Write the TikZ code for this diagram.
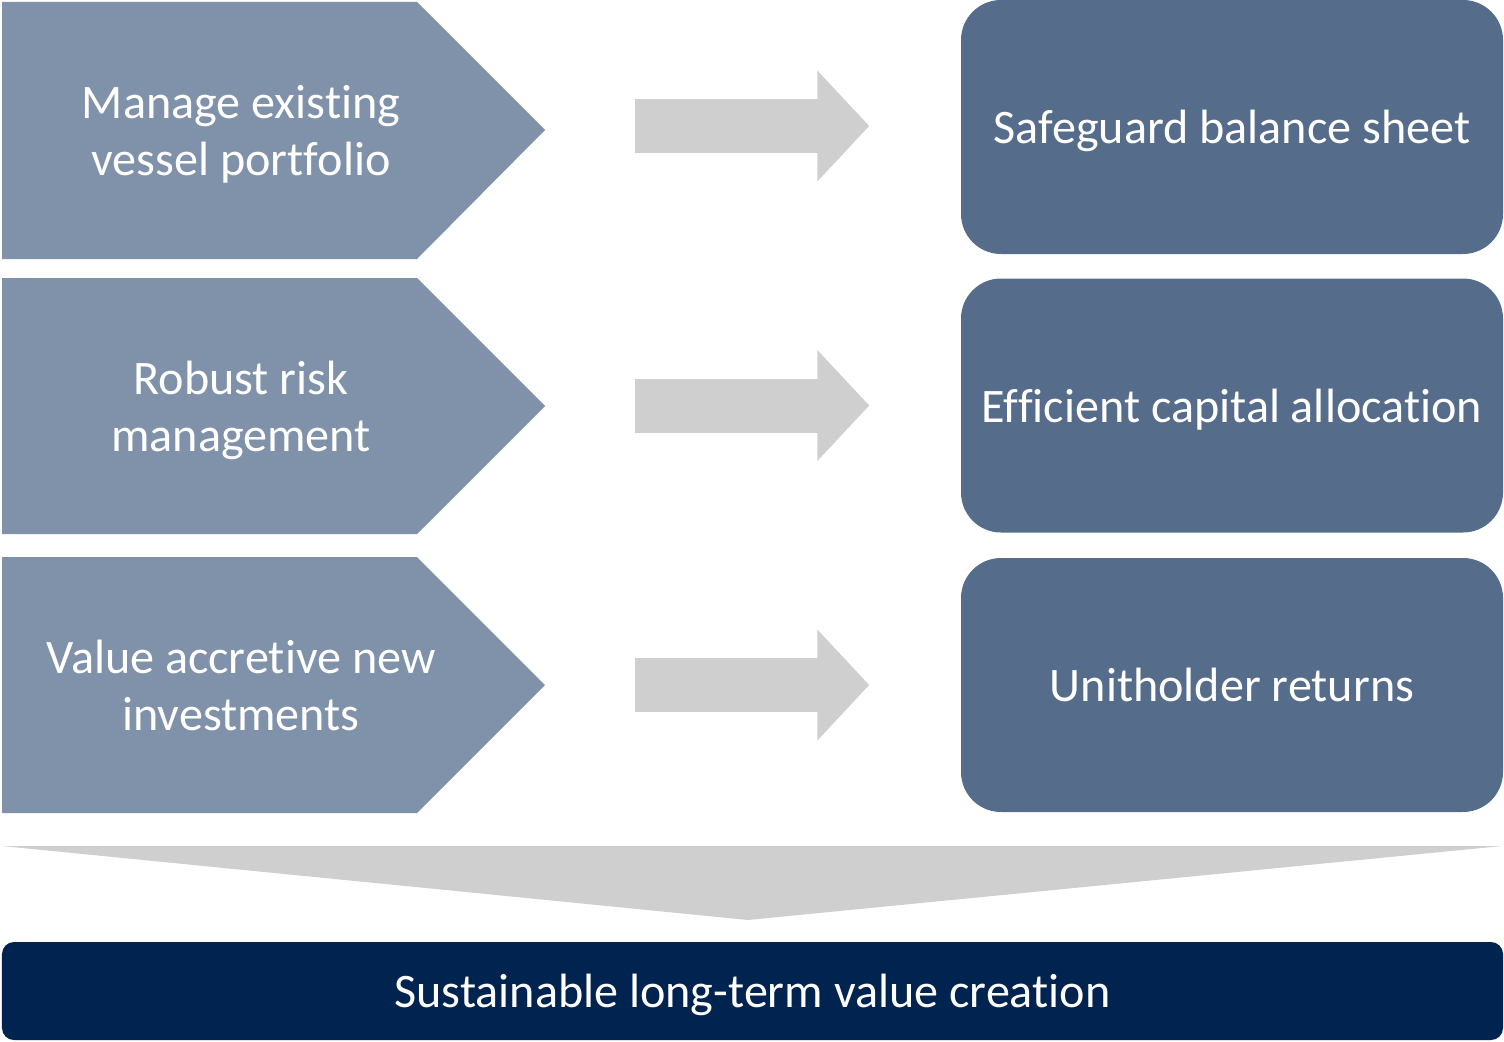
\documentclass[tikz,border=0pt]{standalone}
\usepackage{fontspec}
\setmainfont{Carlito}[Ligatures=NoCommon]
\usepackage{xcolor}
\usetikzlibrary{positioning,arrows.meta}

\begin{document}
\begin{tikzpicture}
  % Colour definitions
  \definecolor{chevfill}{HTML}{8091AA}   % light slate
  \definecolor{goalfill}{HTML}{566C8B}   % slate blue
  \definecolor{basefill}{HTML}{00234F}   % navy
  \definecolor{arrowgray}{HTML}{CFCFCF}

  \tikzstyle{chevtext} = [text=white, align=center, text depth=0pt,
    font=\fontsize{13.7}{16.2}\selectfont]
  \tikzstyle{goal} = [fill=goalfill, rounded corners=0.4cm, minimum width=5.42cm,
    minimum height=2.54cm, inner sep=1pt, text=white, align=center,
    text depth=0pt, font=\fontsize{13.7}{16.2}\selectfont]
  \tikzstyle{flow} = [line width=0.54cm, color=arrowgray,
    -{Triangle[length=5.2mm 0 0, width=10.8mm 0 0]},
    shorten <=0.9cm, shorten >=0.91cm]

  \useasboundingbox (0,0) rectangle (15.04,10.41);

  % Chevrons (filled first, text on top)
  \fill[chevfill] (0.02,10.39) -- (4.17,10.39) -- (5.45,9.11)
    -- (4.17,7.82) -- (0.02,7.82) -- cycle;
  \fill[chevfill] (0.02,7.63) -- (4.17,7.63) -- (5.45,6.35)
    -- (4.17,5.07) -- (0.02,5.07) -- cycle;
  \fill[chevfill] (0.02,4.84) -- (4.17,4.84) -- (5.45,3.56)
    -- (4.17,2.28) -- (0.02,2.28) -- cycle;
  % start points of the block arrows, level with the chevron tips
  \coordinate (t1) at (5.45,9.15);
  \coordinate (t2) at (5.45,6.355);
  \coordinate (t3) at (5.45,3.56);

  \node[chevtext] (m1) at (2.41,9.11) {Manage existing\\vessel portfolio};
  \node[chevtext] (m2) at (2.41,6.35) {Robust risk\\management};
  \node[chevtext] (m3) at (2.41,3.56) {Value accretive new\\investments};

  % Goal boxes
  \node[goal] (g1) at (12.32,9.14) {Safeguard balance sheet};
  \node[goal] (g2) at (12.32,6.355) {Efficient capital allocation};
  \node[goal] (g3) at (12.32,3.56) {Unitholder returns};

  % Block arrows between chevrons and goals
  \draw[flow] (t1) -- (t1 -| g1.west);
  \draw[flow] (t2) -- (t2 -| g2.west);
  \draw[flow] (t3) -- (t3 -| g3.west);

  % Funnel into the base bar
  \fill[arrowgray] (0.02,1.95) -- (15.02,1.95) -- (7.48,1.21) -- cycle;

  % Base bar
  \node[fill=basefill, rounded corners=0.12cm, minimum width=15.01cm,
    minimum height=0.98cm, text=white, text depth=0pt,
    font=\fontsize{13.7}{16.2}\selectfont] (base) at (7.525,0.50)
    {Sustainable long-term value creation};
\end{tikzpicture}
\end{document}
